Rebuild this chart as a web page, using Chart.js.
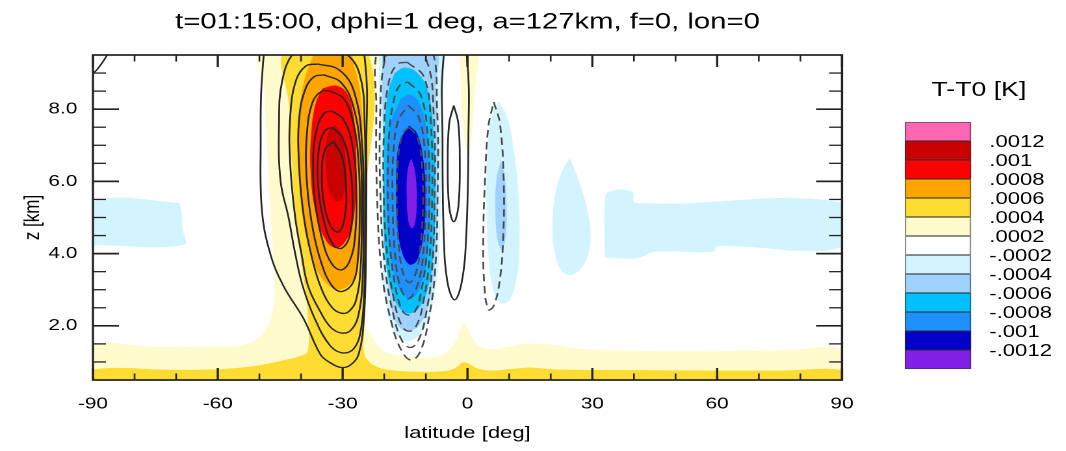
<!DOCTYPE html>
<html lang="en">
<head>
<meta charset="UTF-8" />
<title>T-T0 latitude-height section</title>
<script src="https://cdn.jsdelivr.net/npm/chart.js@4.4.1/dist/chart.umd.min.js"></script>
<style>
  html, body { margin: 0; padding: 0; background: #fff; }
  body { width: 1066px; height: 451px; overflow: hidden; position: relative; }
  /* the reference is drawn 820 wide and stretched to 1066 */
  #stage {
    position: absolute; left: 0; top: 0;
    width: 820px; height: 451px;
    transform: scaleX(1.3); transform-origin: 0 0;
    font-family: "Liberation Sans", Arial, Helvetica, sans-serif;
    color: #000;
  }
  #chart { position: absolute; left: 0; top: 0; width: 820px; height: 451px; }
  .cb-title {
    position: absolute; left: 703px; top: 77px; width: 100px;
    text-align: center; font-size: 20.5px; line-height: 24px;
  }
  .cb-box {
    position: absolute; left: 696px; width: 51px; height: 19px;
    box-sizing: border-box; border: 1px solid rgba(50,50,50,0.55);
  }
  .cb-label {
    position: absolute; left: 761px; font-size: 17px; line-height: 17px; white-space: nowrap;
  }
</style>
</head>
<body>
<div id="stage">
  <canvas id="chart" width="820" height="451" style="width:820px;height:451px"></canvas>
  <div class="cb-title">T-T0 [K]</div>
  <div id="colorbar"></div>
</div>

<script>
  const titleText = 't=01:15:00, dphi=1 deg, a=127km, f=0, lon=0';

  // axis ticks
  const xMajorTicks = [-90, -60, -30, 0, 30, 60, 90];
  const xMinorTicks = [-80, -70, -50, -40, -20, -10, 10, 20, 40, 50, 70, 80];
  const yMajorTicks = [2, 4, 6, 8];
  const yMinorTicks = [1, 1.5, 2.5, 3, 3.5, 4.5, 5, 5.5, 6.5, 7, 7.5, 8.5, 9];

  // colour levels (top of the bar first)
  const levelLabels = ['.0012', '.001', '.0008', '.0006', '.0004', '.0002',
                       '-.0002', '-.0004', '-.0006', '-.0008', '-.001', '-.0012'];
  const levelColors = ['#ff66b3', '#c80000', '#ff0000', '#ffa500', '#ffdc32', '#fffbcc',
                       '#ffffff', '#d2f4ff', '#a0d2ff', '#00c0ff', '#1e90ff', '#0000c8', '#8020e6'];

  // filled regions, [latitude, z]
  const lightYellowMain = [[-90.5,0.4],[-90.5,1.42],[-75,1.42],[-62,1.43],[-55,1.45],[-51,1.6],[-48.5,1.9],
    [-47,2.3],[-46.4,2.9],[-46.5,3.6],[-47,4.5],[-47.6,5.6],[-48.2,7],[-48.8,8.5],[-49.2,9.8],
    [-22.3,9.8],[-22.5,8.8],[-23.3,7.9],[-24.6,7.2],[-26.5,6.5],[-26.5,2.6],[-25,2.1],[-23.5,1.8],
    [-21.5,1.45],[-19,1.25],[-15,1.15],[-10,1.12],[-6,1.2],[-3.5,1.45],[-2,1.8],[-1,2.05],[0,1.95],
    [1.2,1.65],[3,1.42],[6,1.35],[10,1.42],[14,1.5],[20,1.48],[26,1.38],[32,1.33],[45,1.3],[60,1.3],
    [75,1.32],[90.5,1.32],[90.5,0.4]];
  const lightYellowTop = [[-1.8,9.8],[-1.6,8.5],[-1.0,7.4],[0,6.8],[1.0,7.3],[1.7,8.4],[2.2,9.8]];
  const goldRegion = [[-90.5,0.4],[-90.5,0.78],[-70,0.78],[-60,0.8],[-53,0.86],[-48,0.95],[-44,1.05],
    [-40.5,1.15],[-38.4,1.3],[-38.4,2.3],[-38.8,2.8],[-40,3.8],[-41.3,5],[-42.2,6.5],[-42.8,8],[-43.2,9.8],
    [-24.7,9.8],[-24.7,5],[-24.8,2],[-24.9,1.3],[-24,1.05],[-22,0.88],[-19,0.78],[-12,0.73],[-6,0.74],
    [-3.5,0.8],[-2,0.92],[-1,0.99],[0,0.97],[1,0.9],[3,0.8],[6,0.76],[10,0.8],[14,0.84],[17,0.83],
    [22,0.79],[30,0.78],[45,0.77],[60,0.76],[75,0.76],[90.5,0.76],[90.5,0.4]];
  const orangeRegion = [[-35.5,9.8],[-29.5,9.8],[-27,9.1],[-25.5,8.2],[-25.1,6.5],[-25.2,4.8],[-25.9,3.9],
    [-27.6,3.25],[-31,3.0],[-34.5,3.25],[-37.4,3.9],[-39.6,5.0],[-40.7,6.5],[-40.5,7.8],[-39.2,8.8],[-37,9.5]];
  const redRegion = [[-34.8,8.58],[-31.5,8.65],[-29,8.45],[-27.5,7.9],[-26.8,7.0],[-26.8,5.8],[-27.4,4.95],
    [-29,4.4],[-31.5,4.15],[-34.2,4.4],[-36.6,5.2],[-37.7,6.3],[-37.5,7.4],[-36.4,8.2]];
  const darkRedRegion = [[-31.8,7.55],[-30.2,7.3],[-29.3,6.6],[-29.5,5.8],[-30.8,5.45],[-32.6,5.55],
    [-33.9,6.2],[-34.0,7.0],[-33.1,7.45]];

  const lightCyanWest = [[-90.5,4.24],[-90.5,5.41],[-69.6,5.41],[-68.9,5.25],[-68.5,4.7],[-68.3,4.24]];
  const lightCyanMain = [[-21.3,9.8],[-21.2,8],[-20.9,6],[-20.5,4],[-19.8,2.8],[-18.3,2.0],[-15.5,1.6],
    [-12.5,1.65],[-10,2.0],[-8,2.8],[-6.8,4.0],[-6.4,6],[-6.6,8],[-7.2,9.8]];
  const lightCyanEq = [[7.5,8.2],[9.5,7.8],[11.2,6.8],[12.3,5.5],[12.5,4.2],[11.8,3.3],[10,2.7],[8,2.63],
    [6.2,3.0],[5.0,4.0],[4.6,5.5],[4.9,7.0],[6,7.9]];
  const lightCyan25 = [[24.6,6.65],[26.8,6.0],[28.8,5.2],[29.6,4.5],[28.8,3.9],[26.5,3.5],[24.6,3.4],
    [22.5,3.55],[21,4.0],[20.4,4.7],[21,5.6],[22.8,6.3]];
  const lightCyanEast = [[33,3.9],[33,5.4],[34,5.72],[39.5,5.72],[40.5,5.4],[90.5,5.4],[90.5,4.2],
    [60,4.2],[59,4.05],[45,4.05],[41,3.88],[35,3.88]];
  const lightBlueMain = [[-20.5,9.8],[-20.4,8],[-20.1,6],[-19.6,4],[-18.8,2.9],[-17.2,2.1],[-14.5,1.85],
    [-11.8,2.0],[-9.5,2.5],[-8,3.5],[-7.3,5],[-7.2,7],[-7.6,8.5],[-8.2,9.8]];
  const lightBlueEq = [[8,6.6],[9.0,6.1],[9.4,5.3],[9.2,4.5],[8.3,4.1],[7.2,4.4],[6.7,5.2],[6.9,6.0]];
  const cyanRegion = [[-17.5,9.0],[-15,9.15],[-12,9.0],[-9.5,8.5],[-8.1,7.3],[-7.7,5.5],[-8.2,4.0],
    [-9.6,3.0],[-12,2.45],[-14.5,2.35],[-17,2.6],[-19,3.3],[-20.1,4.5],[-20.2,6],[-19.9,7.5],[-19,8.5]];
  const dodgerRegion = [[-16,8.3],[-13.5,8.4],[-11,8.0],[-9.4,7.0],[-8.9,5.5],[-9.4,4.2],[-11,3.2],
    [-13.5,2.75],[-16,2.95],[-18.3,3.8],[-19.4,5.2],[-19.4,6.6],[-18.5,7.6]];
  const darkBlueRegion = [[-14,7.55],[-12,7.3],[-10.5,6.5],[-10.1,5.5],[-10.6,4.5],[-12.2,3.8],[-14,3.7],
    [-15.9,4.1],[-17.0,5.0],[-17.1,6.2],[-16.3,7.1]];
  const purpleRegion = [[-13.5,6.65],[-12.5,6.2],[-12.2,5.5],[-12.5,4.9],[-13.3,4.7],[-14.2,4.9],
    [-14.6,5.6],[-14.4,6.3]];

  // contour lines (solid = positive, dashed = negative)
  const solid1 = [[-37,10.6],[-27.5,10.3],[-24.6,9.3],[-24.3,7],[-24.4,4],[-24.9,2.2],[-26.2,1.2],[-28.3,0.9],
    [-30.5,0.85],[-33,0.98],[-35.3,1.2],[-39.4,2.2],[-44.2,3.1],[-47.4,4.0],[-49.4,5.2],[-49.7,7.0],
    [-49.3,9.0],[-47.5,10.1],[-43,10.6]];
  const solid2 = [[-37,9.85],[-30,9.6],[-26,9.0],[-24.7,7.5],[-24.6,5],[-24.8,3],[-25.6,1.9],[-27.3,1.37],
    [-30,1.25],[-33,1.45],[-36.7,2.2],[-39.6,3.1],[-41.4,4.0],[-43,5.0],[-44.9,6.0],[-45.3,7.5],
    [-44.5,8.8],[-41.5,9.6]];
  const solid3 = [[-36,9.25],[-31,9.1],[-27.3,8.5],[-25.3,7],[-25.0,5],[-25.2,3.3],[-26.2,2.3],[-28,1.88],
    [-30.2,1.8],[-32.8,1.95],[-35.4,2.4],[-38.3,3.1],[-39.9,4.0],[-41.4,5.0],[-42.6,6.5],[-42.6,7.8],
    [-41.2,8.8],[-38.8,9.2]];
  const solid4 = [[-34.5,8.95],[-30.5,8.75],[-27.5,8.1],[-25.7,6.8],[-25.4,5],[-25.7,3.6],[-26.8,2.7],
    [-28.5,2.4],[-30.3,2.35],[-32.5,2.5],[-35,3.0],[-37.2,3.8],[-39.3,5.0],[-40.5,6.5],[-40.4,7.8],
    [-38.8,8.6],[-36.8,8.9]];
  const solid5 = [[-33,8.5],[-29.8,8.3],[-27.4,7.6],[-26.1,6.4],[-25.9,5],[-26.3,3.9],[-27.5,3.2],
    [-30.2,2.95],[-32.5,3.1],[-35,3.7],[-37.2,4.7],[-38.6,6.0],[-38.6,7.3],[-37.2,8.2],[-35,8.5]];
  const solid6 = [[-32.5,7.95],[-29.7,7.7],[-27.5,6.9],[-26.7,5.7],[-27,4.5],[-28.3,3.8],[-30.3,3.55],
    [-32.5,3.7],[-34.7,4.3],[-36.6,5.4],[-37.1,6.6],[-36.1,7.5],[-34.3,7.9]];
  const solid7 = [[-32.5,7.5],[-30,7.2],[-28.2,6.4],[-27.6,5.4],[-28.3,4.5],[-30.2,4.15],[-32.3,4.25],
    [-34.5,4.9],[-35.9,5.9],[-35.7,6.9],[-34.3,7.4]];
  const solid8 = [[-32.2,7.1],[-30.2,6.7],[-29.2,5.9],[-29.5,5.0],[-31,4.6],[-32.8,4.75],[-34.5,5.4],
    [-35,6.2],[-34.2,6.9]];
  const solidEqOuter = [[-3,10.5],[-0.2,9.5],[0.2,7],[-0.3,4.5],[-1.4,3.2],[-3.1,2.72],[-4.8,3.2],
    [-5.7,4.5],[-6.0,7],[-5.7,9.5]];
  const solidEqInner = [[-3.3,8.1],[-2.2,7.6],[-1.85,6.5],[-2.2,5.3],[-3.3,4.88],[-4.4,5.3],[-4.75,6.5],
    [-4.4,7.6]];
  const solidCorner = [[-90.5,8.98],[-89.4,9.05],[-88,9.25],[-86.6,9.5],[-86,9.7]];

  const dashed1 = [[-15,10.3],[-9,9.8],[-7.3,8],[-7.2,5.5],[-7.8,3.5],[-9.3,2.2],[-11.3,1.3],[-13.5,1.05],
    [-15.8,1.3],[-18.3,2.1],[-20.6,3.5],[-21.7,5.5],[-21.9,8],[-21.2,9.8]];
  const dashed2 = [[-15,9.85],[-10,9.4],[-8.1,7.8],[-7.9,5.5],[-8.5,3.6],[-10,2.3],[-11.8,1.6],[-13.7,1.4],
    [-15.8,1.6],[-18,2.4],[-19.9,3.7],[-20.9,5.5],[-21.0,7.8],[-20.0,9.3],[-17.8,9.8]];
  const dashed3 = [[-14.5,9.3],[-10.5,8.9],[-8.8,7.6],[-8.5,5.5],[-9.2,3.8],[-10.7,2.6],[-12.3,2.0],[-14,1.85],
    [-15.8,2.0],[-17.8,2.8],[-19.3,4.0],[-20.1,5.5],[-20.0,7.6],[-18.8,8.8],[-16.8,9.25]];
  const dashed4 = [[-14.3,8.75],[-11.3,8.4],[-9.6,7.3],[-9.2,5.5],[-9.8,4.0],[-11.2,2.9],[-12.6,2.4],
    [-14.2,2.3],[-15.8,2.45],[-17.5,3.2],[-18.7,4.3],[-19.1,5.5],[-18.9,7.2],[-17.6,8.3],[-16,8.7]];
  const dashed5 = [[-14.2,8.1],[-11.8,7.8],[-10.3,6.9],[-10.0,5.5],[-10.5,4.2],[-11.8,3.2],[-14.2,2.75],
    [-16.2,3.1],[-17.5,4.1],[-18,5.5],[-17.8,6.8],[-16.6,7.7]];
  const dashed6 = [[-14,7.5],[-12,7.2],[-10.9,6.4],[-10.7,5.3],[-11.4,4.1],[-12.6,3.4],[-14.1,3.2],
    [-15.6,3.5],[-16.6,4.4],[-17.0,5.5],[-16.7,6.6],[-15.6,7.3]];
  const dashedEq = [[6.3,8.2],[7.8,7.6],[8.7,6.0],[8.6,4.5],[7.8,3.3],[6.3,2.55],[5.0,2.45],[4.0,3.2],
    [3.8,4.5],[4.2,6.0],[5.0,7.5]];

  // painting order: bottom first
  const fills = [
    [lightYellowMain, levelColors[5]], [lightYellowTop, levelColors[5]],
    [goldRegion, levelColors[4]], [orangeRegion, levelColors[3]],
    [redRegion, levelColors[2]], [darkRedRegion, levelColors[1]],
    [lightCyanWest, levelColors[7]], [lightCyanMain, levelColors[7]], [lightCyanEq, levelColors[7]],
    [lightCyan25, levelColors[7]], [lightCyanEast, levelColors[7]],
    [lightBlueMain, levelColors[8]], [lightBlueEq, levelColors[8]],
    [cyanRegion, levelColors[9]], [dodgerRegion, levelColors[10]],
    [darkBlueRegion, levelColors[11]], [purpleRegion, levelColors[12]]
  ];
  const solidLines = [solid1, solid2, solid3, solid4, solid5, solid6, solid7, solid8,
                      solidEqOuter, solidEqInner];
  const dashedLines = [dashed1, dashed2, dashed3, dashed4, dashed5, dashed6, dashedEq];

  const FONT = '"Liberation Sans", Arial, Helvetica, sans-serif';
  const toXY = pts => pts.map(([x, y]) => ({ x, y }));
  const closed = pts => pts.concat([pts[0]]);

  const datasets = [];
  fills.forEach(([pts, color]) => {
    datasets.push({
      data: toXY(closed(pts)), fill: 'shape', backgroundColor: color,
      borderWidth: 0, pointRadius: 0, tension: 0.4
    });
  });
  solidLines.forEach(pts => {
    datasets.push({
      data: toXY(closed(pts)), fill: false, borderColor: '#262626',
      borderWidth: 1.35, pointRadius: 0, tension: 0.4
    });
  });
  datasets.push({
    data: toXY(solidCorner), fill: false, borderColor: '#262626',
    borderWidth: 1.35, pointRadius: 0, tension: 0.4
  });
  dashedLines.forEach(pts => {
    datasets.push({
      data: toXY(closed(pts)), fill: false, borderColor: '#4a4a4a',
      borderWidth: 1.35, borderDash: [7.5, 4.5], pointRadius: 0, tension: 0.4
    });
  });
  // later entries are drawn on top
  datasets.forEach((ds, i) => { ds.order = datasets.length - i; });

  // inward ticks on all four sides plus the frame
  const frameTicks = {
    id: 'frameTicks',
    afterDatasetsDraw(chart) {
      const { ctx, chartArea: a, scales: { x, y } } = chart;
      ctx.save();
      ctx.strokeStyle = '#222';
      const seg = (x1, y1, x2, y2) => { ctx.beginPath(); ctx.moveTo(x1, y1); ctx.lineTo(x2, y2); ctx.stroke(); };
      ctx.lineWidth = 1.3;
      xMinorTicks.forEach(v => {
        const p = x.getPixelForValue(v);
        seg(p, a.bottom, p, a.bottom - 6.5); seg(p, a.top, p, a.top + 6.5);
      });
      yMinorTicks.forEach(v => {
        const p = y.getPixelForValue(v);
        seg(a.left, p, a.left + 10, p); seg(a.right, p, a.right - 10, p);
      });
      ctx.lineWidth = 1.7;
      xMajorTicks.forEach(v => {
        const p = x.getPixelForValue(v);
        seg(p, a.bottom, p, a.bottom - 12); seg(p, a.top, p, a.top + 12);
      });
      yMajorTicks.forEach(v => {
        const p = y.getPixelForValue(v);
        seg(a.left, p, a.left + 20, p); seg(a.right, p, a.right - 20, p);
      });
      ctx.lineWidth = 1.7;
      ctx.strokeRect(a.left, a.top, a.right - a.left, a.bottom - a.top);
      ctx.restore();
    }
  };

  new Chart(document.getElementById('chart'), {
    type: 'line',
    data: { datasets },
    plugins: [frameTicks],
    options: {
      responsive: false,
      animation: false,
      devicePixelRatio: 2,
      layout: { autoPadding: false, padding: { left: 0, right: 172.3, top: 0, bottom: 0 } },
      plugins: {
        legend: { display: false },
        tooltip: { enabled: false },
        title: {
          display: true, text: titleText, fullSize: false, color: '#000',
          font: { family: FONT, size: 22.5, weight: 'normal' },
          padding: { top: 9, bottom: 19 }
        }
      },
      scales: {
        x: {
          type: 'linear', min: -90, max: 90,
          afterBuildTicks: s => { s.ticks = xMajorTicks.map(v => ({ value: v })); },
          afterFit: s => { s.height = 71; },
          grid: { display: false, drawTicks: false },
          border: { display: false },
          ticks: { color: '#000', padding: 14.4, maxRotation: 0, autoSkip: false,
                   font: { family: FONT, size: 16 } },
          title: { display: true, text: 'latitude [deg]', color: '#000',
                   font: { family: FONT, size: 17 }, padding: { top: 0, bottom: 7.4 } }
        },
        y: {
          type: 'linear', min: 0.5, max: 9.5,
          afterBuildTicks: s => { s.ticks = yMajorTicks.map(v => ({ value: v })); },
          afterFit: s => { s.width = 71.5; },
          grid: { display: false, drawTicks: false },
          border: { display: false },
          ticks: { color: '#000', padding: 12, autoSkip: false,
                   font: { family: FONT, size: 16 },
                   callback: v => Number(v).toFixed(1) },
          title: { display: true, text: 'z [km]', color: '#000',
                   font: { family: FONT, size: 17 }, padding: { top: 15, bottom: 0 } }
        }
      }
    }
  });

  // colour bar
  const bar = document.getElementById('colorbar');
  levelColors.forEach((c, i) => {
    const box = document.createElement('div');
    box.className = 'cb-box';
    box.style.top = (122 + i * 19) + 'px';
    box.style.background = c;
    bar.appendChild(box);
  });
  levelLabels.forEach((t, i) => {
    const lab = document.createElement('div');
    lab.className = 'cb-label';
    lab.style.top = (122 + (i + 1) * 19 - 8.5) + 'px';
    lab.textContent = t;
    bar.appendChild(lab);
  });
</script>
</body>
</html>
